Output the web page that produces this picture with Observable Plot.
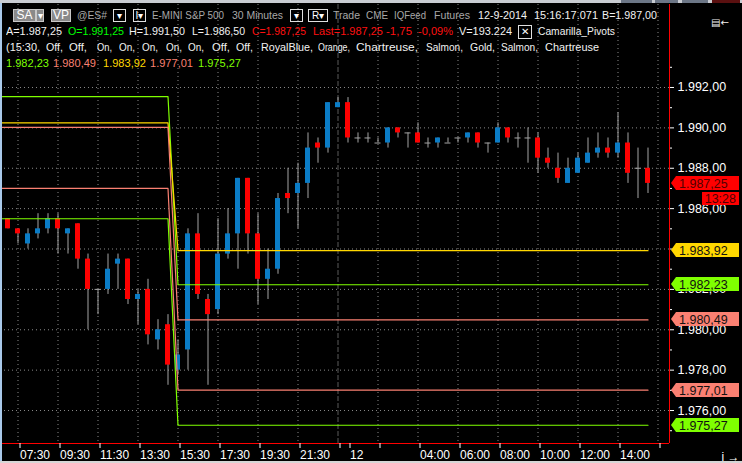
<!DOCTYPE html>
<html><head><meta charset="utf-8">
<script src="https://cdn.jsdelivr.net/npm/d3@7"></script>
<script src="https://cdn.jsdelivr.net/npm/@observablehq/plot@0.6"></script>
<style>
body{margin:0;background:#000;}
#wrap{position:relative;width:742px;height:463px;overflow:hidden;background:#000;font-family:"Liberation Sans",Arial,sans-serif;}
#chart{position:absolute;left:0;top:0;}
.h{position:absolute;font-size:11px;line-height:13px;white-space:pre;color:#f2f2f2;transform-origin:0 50%;}
.g{color:#a8a8a8;}
.r{color:#ff1010;}
.gr{color:#00ff00;}
.box{position:absolute;box-sizing:border-box;border:1px solid #e0e0e0;color:#fff;font-size:10px;text-align:center;}
.gbox{background:#8a8a8a;border-color:#c8c8c8;}
</style></head><body>
<div id="wrap"><div id="chart"></div><div id="hdr"></div></div>
<script>
// ---- data ----
const barIndex = d3.range(65);
const opens  = [1985.50,1985.00,1984.25,1984.75,1985.00,1985.50,1984.75,1985.25,1983.50,1982.00,1982.00,1983.25,1983.50,1981.50,1982.00,1979.50,1980.25,1978.00,1979.00,1984.75,1981.50,1981.00,1983.75,1984.75,1987.50,1984.75,1982.50,1983.00,1986.75,1986.75,1987.25,1989.25,1989.00,1991.00,1991.25,1989.50,1989.50,1989.25,1989.25,1990.00,1989.75,1989.75,1989.25,1989.25,1989.25,1989.50,1989.50,1989.75,1989.25,1989.25,1990.00,1989.50,1989.50,1989.50,1988.50,1988.00,1987.25,1987.75,1988.25,1988.75,1989.00,1988.75,1989.25,1988.00,1988.00];
const highs  = [1985.50,1985.00,1985.00,1985.75,1985.75,1985.75,1985.00,1985.25,1983.75,1982.00,1983.75,1983.75,1983.50,1982.00,1982.50,1980.50,1980.75,1979.50,1985.00,1985.75,1981.75,1985.50,1986.00,1987.50,1987.50,1985.75,1984.00,1986.75,1988.00,1988.25,1989.75,1989.50,1991.25,1991.50,1991.50,1989.75,1989.75,1989.50,1990.00,1990.00,1989.75,1990.25,1989.50,1989.50,1989.50,1989.50,1989.75,1989.75,1989.25,1990.25,1990.00,1989.75,1990.00,1989.75,1989.00,1988.75,1988.50,1988.75,1989.50,1989.75,1989.50,1990.75,1989.75,1989.00,1989.00];
const lows   = [1985.00,1984.25,1984.00,1984.50,1984.75,1983.75,1983.75,1983.00,1980.00,1980.75,1981.75,1982.00,1981.25,1980.25,1979.25,1979.00,1977.25,1977.75,1978.00,1981.50,1977.25,1980.75,1983.50,1983.00,1983.75,1981.25,1981.50,1982.75,1985.75,1985.00,1986.50,1988.25,1988.75,1991.00,1989.25,1989.25,1989.25,1989.25,1989.00,1989.50,1989.00,1989.25,1989.00,1989.00,1989.25,1989.25,1989.25,1989.00,1988.75,1989.25,1989.25,1989.00,1988.25,1987.75,1988.00,1987.25,1987.25,1987.75,1988.25,1988.50,1988.50,1988.50,1987.25,1986.50,1986.75];
const closes = [1985.00,1984.75,1984.75,1985.00,1985.50,1985.00,1985.00,1983.50,1982.00,1982.00,1983.00,1983.50,1981.50,1981.75,1979.75,1980.00,1978.25,1978.75,1984.75,1981.75,1980.75,1983.75,1984.75,1987.50,1984.75,1982.50,1983.00,1986.50,1986.50,1987.25,1989.00,1989.00,1991.25,1991.25,1989.50,1989.50,1989.50,1989.25,1990.00,1989.75,1989.75,1989.25,1989.25,1989.50,1989.25,1989.50,1989.75,1989.25,1989.25,1990.00,1989.50,1989.50,1989.50,1988.50,1988.25,1987.50,1988.00,1988.50,1988.75,1989.00,1988.75,1989.25,1987.75,1988.00,1987.25];

// Camarilla pivot levels: previous session -> current session
const pivotNames  = ["H4","Pivot","H3","L3","L4"];
const pivotColors = ["#7FFF00","#FFD700","#FA8072","#FA8072","#7FFF00"];
const prevLevels  = [1991.55,1990.25,1990.02,1987.00,1985.50];
const currLevels  = [1982.23,1983.92,1980.49,1977.01,1975.27];
const lastPrevBar = 16, firstCurrBar = 17;

// axes
const xTickBars   = [1,5,9,13,17,21,25,29,33,34,37,41,45,49,53,57,61,65];
const xTickLabels = ["07:30","09:30","11:30","13:30","15:30","17:30","19:30","21:30","","12","","04:00","06:00","08:00","10:00","12:00","14:00",""];
const gridBars    = [1,5,9,13,17,21,25,29,37,41,45,49,53,57,61,65];
const daySeparator = [33];
const yTicks      = [1976,1978,1980,1982,1984,1986,1988,1990,1992];
const yMinor      = [1975,1977,1979,1981,1983,1985,1987,1989,1991,1993];
const yGrid       = [1976,1978,1980,1982,1984,1986,1988,1990,1992];

// price tags on right axis
const lastPrice = 1987.25;
const timerText = "13:28";
const tagPrices = [1987.25,1983.92,1982.23,1980.49,1977.01,1975.27];
const tagColors = ["#FF0000","#FFD700","#7FFF00","#FA8072","#FA8072","#7FFF00"];

// ---- build ----
const fmt = d3.formatLocale({decimal:",",thousands:".",grouping:[3],currency:["",""]}).format(",.2f");
const bars = barIndex.map(i => ({i, o:opens[i], h:highs[i], l:lows[i], c:closes[i]}));
const up = bars.filter(d => d.c > d.o);
const down = bars.filter(d => d.c < d.o);
const doji = bars.filter(d => d.c === d.o);
const lastBar = barIndex[barIndex.length-1];
const xDomain = [-0.75, 66.15];
const yDomain = [1974.367, 1996.111];
const pivotPts = [];
pivotNames.forEach((n,k) => {
  pivotPts.push({k:n, i:xDomain[0], p:prevLevels[k], col:pivotColors[k]});
  pivotPts.push({k:n, i:lastPrevBar, p:prevLevels[k], col:pivotColors[k]});
  pivotPts.push({k:n, i:firstCurrBar, p:currLevels[k], col:pivotColors[k]});
  pivotPts.push({k:n, i:lastBar, p:currLevels[k], col:pivotColors[k]});
});
const tags = tagPrices.map((p,k) => ({p, col:tagColors[k], t:fmt(p)}));

function tagMark(index, scales, values, dim) {
  const g = d3.create("svg:g").attr("text-anchor", "start");
  const y = scales.y;
  const x0 = dim.width - dim.marginRight + 2;
  const x1 = dim.width - 3;
  tags.forEach(d => {
    const yc = Math.round(y(d.p));
    g.append("path")
      .attr("d", `M${x0},${yc}L${x0+5},${yc-7}L${x1},${yc-7}L${x1},${yc+7}L${x0+5},${yc+7}Z`)
      .attr("fill", d.col);
    g.append("text").attr("x", x0+8).attr("y", yc).attr("dy","0.36em").attr("text-anchor","start")
      .attr("fill", d.col === "#FF0000" ? "#500000" : "#111")
      .attr("font-size", 12.5).attr("font-family","Liberation Sans, Arial, sans-serif")
      .text(d.t);
  });
  const yl = Math.round(y(lastPrice));
  g.append("rect").attr("x", x1-37).attr("y", yl+9).attr("width", 37).attr("height", 13).attr("fill", "#FF0000");
  g.append("text").attr("x", x1-3).attr("y", yl+15.5).attr("dy","0.36em").attr("text-anchor","end")
    .attr("fill","#500000").attr("font-size",12.5).attr("font-family","Liberation Sans, Arial, sans-serif").text(timerText);
  return g.node();
}

const chart = Plot.plot({
  width: 742, height: 463,
  marginTop: 4, marginBottom: 20, marginLeft: 0, marginRight: 73,
  style: {background: "transparent", color: "white", fontFamily: "Liberation Sans, Arial, sans-serif"},
  x: {type: "linear", domain: xDomain},
  y: {type: "linear", domain: yDomain},
  color: {type: "identity"},
  marks: [
    Plot.ruleY(yGrid, {stroke: "#8a8a8a", strokeDasharray: "1,3"}),
    Plot.ruleX(gridBars, {stroke: "#8a8a8a", strokeDasharray: "1,3"}),
    Plot.ruleX(daySeparator, {stroke: "#5a5a5a", strokeDasharray: "5,2"}),
    Plot.ruleX(bars, {x: "i", y1: "l", y2: "h", stroke: "#a4a4a4"}),
    Plot.ruleY(doji, {y: "o", x1: d => d.i - 0.3, x2: d => d.i + 0.3, stroke: "#a4a4a4"}),
    Plot.rect(up, {x1: d => d.i - 0.25, x2: d => d.i + 0.25, y1: "o", y2: "c", fill: "#0A7CC6"}),
    Plot.rect(down, {x1: d => d.i - 0.25, x2: d => d.i + 0.25, y1: "o", y2: "c", fill: "#FF0000"}),
    Plot.line(pivotPts, {x: "i", y: "p", z: "k", stroke: "col", strokeWidth: 1.2}),
    Plot.ruleY([yDomain[0]], {stroke: "#FF0000"}),
    Plot.ruleX([xDomain[1]], {stroke: "#FF0000"}),
    Plot.axisX(xTickBars, {anchor: "bottom", tickSize: 5, tickPadding: 2, textAnchor: "start", dx: 2,
      tickFormat: i => xTickLabels[xTickBars.indexOf(i)], fontSize: 12, color: "white"}),
    Plot.axisY(yMinor, {anchor: "right", tickSize: 2, tickFormat: () => "", color: "white"}),
    Plot.axisY(yTicks, {anchor: "right", tickSize: 4, tickPadding: 4, tickFormat: fmt, fontSize: 12.5, color: "white"}),
    tagMark
  ]
});
document.getElementById("chart").appendChild(chart);

// ---- header overlay ----
const hdr = document.getElementById("hdr");
function span(x, y, text, cls, w) {
  const s = document.createElement("div");
  s.className = "h " + (cls || "");
  s.style.left = x + "px"; s.style.top = y + "px";
  s.textContent = text; hdr.appendChild(s);
  if (w) {
    const cw = s.getBoundingClientRect().width;
    if (cw > 0) s.style.transform = `scaleX(${w / cw})`;
  }
  return s;
}
function box(x, y, w, h, text, cls) {
  const b = document.createElement("div");
  b.className = "box " + (cls || "");
  Object.assign(b.style, {left: x+"px", top: y+"px", width: w+"px", height: h+"px", lineHeight: (h-2)+"px"});
  b.textContent = text; hdr.appendChild(b); return b;
}
// window frame pieces
const frame = (x,y,w,h,c) => { const d=document.createElement("div"); Object.assign(d.style,{position:"absolute",left:x+"px",top:y+"px",width:w+"px",height:h+"px",background:c}); hdr.appendChild(d); };
frame(0,0,742,3,"#c9ccd2");
frame(621,0,31,3,"#6c7686"); frame(655,0,23,3,"#6c7686"); frame(682,0,26,3,"#6c7686"); frame(712,0,28,3,"#5a1010");
frame(0,3,2,458,"#a9c9ea");
frame(0,461,742,2,"#d6d6d6");

const L1 = 8.5, L2 = 25, L3 = 41, L4 = 56.5;
box(13, 9, 23, 13, "SA", "gbox").style.fontSize = "12px";
box(36, 9, 8, 13, "▾", "gbox");
box(51, 9, 20, 13, "VP", "gbox").style.fontSize = "12px";
box(113, 9, 13, 13, "▾");
box(133, 9, 13, 13, "I▾");
box(290, 9, 13, 13, "▾");
box(308, 9, 20, 13, "R▾");
box(518, 25, 14, 14, "✕").style.fontSize = "10px";

const line1 = [["@ES#",77,30,"g"],["E-MINI S&P 500",152,72,"g"],["30 Minutes",232,51,"g"],["Trade",333,27,"g"],["CME",366,22,"g"],["IQFeed",394,32,"g"],["Futures",434,36,"g"],["12-9-2014",478,49],["15:16:17.071",534,64],["B=1.987,00",602,55]];
line1.forEach(([t,x,w,c]) => span(x, L1, t, c, w));

const line2 = [["A=1.987,25",6,56],["O=1.991,25",68,56,"gr"],["H=1.991,50",129,56],["L=1.986,50",192,53],["C=1.987,25",252,54,"r"],["Last=1.987,25",313,70,"r"],["-1,75",386,26,"r"],["-0,09%",418,35,"r"],["V=193.224",459,53],["Camarilla_Pivots",538,77]];
line2.forEach(([t,x,w,c]) => span(x, L2, t, c, w));

const line3 = [["(15:30,",6,34],["Off,",46,17],["Off,",69,18],["On,",97,15],["On,",119,16],["On,",142,16],["On,",166,16],["On,",188,16],["Off,",212,18],["Off,",236,17],["RoyalBlue,",261,52],["Orange,",318,32],["Chartreuse,",356,62],["Salmon,",426,37],["Gold,",470,25],["Salmon,",501,37],["Chartreuse",545,54]];
line3.forEach(([t,x,w]) => span(x, L3, t, "", w));

const l4x = [6, 53, 103, 150, 198];
const l4v = [1982.23, 1980.49, 1983.92, 1977.01, 1975.27];
const l4c = ["#7FFF00", "#FA8072", "#FFD700", "#FA8072", "#7FFF00"];
l4v.forEach((v,k) => { span(l4x[k], L4, fmt(v), "", 43).style.color = l4c[k]; });

const ic = span(711, 16, "▤←"); ic.style.fontFamily = "DejaVu Sans"; ic.style.fontSize = "10px";
</script>
</body></html>
